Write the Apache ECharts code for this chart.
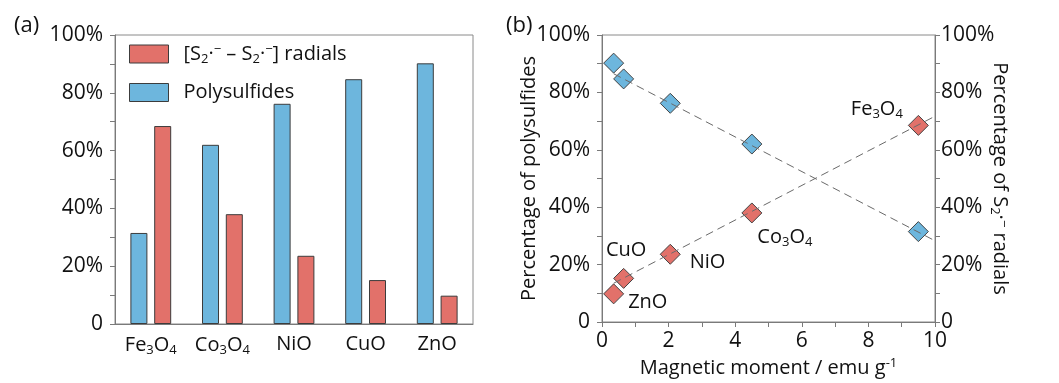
<!DOCTYPE html>
<html>
<head>
<meta charset="utf-8">
<script src="https://cdn.jsdelivr.net/npm/echarts@6/dist/echarts.min.js"></script>
<style>html,body{margin:0;padding:0;background:#fff}#c{width:1059px;height:383px}</style>
</head>
<body>
<div id="c"></div>
<script>
// ---- data ----
const categories = ['Fe3O4', 'Co3O4', 'NiO', 'CuO', 'ZnO'];
const polysulfides = [31.5, 62, 76.2, 84.7, 90.2];
const radicals = [68.5, 38, 23.6, 15.2, 9.8];
const magneticMoment = [9.5, 4.5, 2.05, 0.65, 0.35];
const fitX = [0.35, 10];
const fitPolysulfides = [86.5, 28.3];
const fitRadicals = [13.5, 71.7];
const yTicks = [0, 20, 40, 60, 80, 100];
const xTicks = [0, 2, 4, 6, 8, 10];

// ---- styles ----
const FONT = 'Open Sans';
const FS = 20;
const TFS = 21;
const BLUE = '#6db6dd', RED = '#e2716a', EDGE = '#3c3c3c', AXIS = '#7a7a7a';
const rich = {
  n: {fontFamily: FONT, fontSize: FS, color: '#111'},
  sub: {fontFamily: FONT, fontSize: 13, color: '#111', padding: [10, 0, 0, 0]},
  sup: {fontFamily: FONT, fontSize: 13, color: '#111', padding: [0, 0, 9, 0]}
};
const chem = s => s.replace(/(\d)/g, '{sub|$1}').replace(/^([^{]+)/, '{n|$1}').replace(/\}([A-Za-z]+)/g, '}{n|$1}');
const pct = v => v === 0 ? '0' : v + '%';
// label placement for red point annotations: [dx, dy, align]
const labelPlace = {
  'Fe3O4': [-15, -16, 'right'],
  'Co3O4': [6, 25, 'left'],
  'NiO': [20, 9, 'left'],
  'CuO': [3, -28, 'center'],
  'ZnO': [15, 9, 'left']
};

const yAxisBase = (gi, pos) => ({
  type: 'value', gridIndex: gi, position: pos, min: 0, max: 100, interval: 20,
  axisLine: {show: true, lineStyle: {color: AXIS, width: 1}},
  axisTick: {show: true, inside: false, length: 5, lineStyle: {color: AXIS}},
  minorTick: {show: true, splitNumber: 2, length: 5, lineStyle: {color: AXIS}},
  splitLine: {show: false},
  axisLabel: {formatter: pct, fontFamily: FONT, fontSize: TFS, color: '#111', margin: pos === 'right' ? 6 : 12}
});

const option = {
  animation: false,
  backgroundColor: '#fff',
  title: [
    {text: '(a)', left: 9, top: 10, textStyle: {fontFamily: FONT, fontSize: 22, fontWeight: 'normal', color: '#111'}},
    {text: '(b)', left: 501, top: 10, textStyle: {fontFamily: FONT, fontSize: 22, fontWeight: 'normal', color: '#111'}}
  ],
  grid: [
    {left: 115, top: 35, width: 358, height: 289, show: true, borderColor: '#8a8a8a', borderWidth: 1, backgroundColor: 'transparent'},
    {left: 602, top: 35, width: 333, height: 288, show: true, borderColor: '#8a8a8a', borderWidth: 1, backgroundColor: 'transparent'}
  ],
  legend: {
    left: 129, top: 43, padding: 0, orient: 'vertical', itemWidth: 39, itemHeight: 18, itemGap: 17,
    icon: 'rect',
    data: [
      {name: 'Radicals', itemStyle: {color: RED, borderColor: EDGE, borderWidth: 1}},
      {name: 'Polysulfides', itemStyle: {color: BLUE, borderColor: EDGE, borderWidth: 1}}
    ],
    formatter: n => n === 'Radicals'
      ? '{n|[S}{sub|2}{n|·}{sup|−}{n| – S}{sub|2}{n|·}{sup|−}{n|] radials}'
      : '{n|Polysulfides}',
    textStyle: {fontFamily: FONT, fontSize: FS, color: '#111', padding: [0, 0, 0, 10], rich: rich}
  },
  xAxis: [
    {
      type: 'category', gridIndex: 0, data: categories,
      axisLine: {show: true, lineStyle: {color: AXIS}},
      axisTick: {show: false},
      axisLabel: {formatter: chem, rich: rich, margin: 10, interval: 0}
    },
    {
      type: 'value', gridIndex: 1, min: 0, max: 10, interval: 2,
      axisLine: {show: true, lineStyle: {color: AXIS}},
      axisTick: {show: true, length: 5, lineStyle: {color: AXIS}},
      minorTick: {show: true, splitNumber: 2, length: 5, lineStyle: {color: AXIS}},
      splitLine: {show: false},
      axisLabel: {fontFamily: FONT, fontSize: TFS, color: '#111', margin: 9},
      name: '{n|Magnetic moment / emu g}{sup|-1}',
      nameLocation: 'middle', nameGap: 35, nameMoveOverlap: false,
      nameTextStyle: {rich: rich}
    }
  ],
  yAxis: [
    yAxisBase(0, 'left'),
    Object.assign(yAxisBase(1, 'left'), {
      name: 'Percentage of polysulfides', nameLocation: 'middle', nameGap: 63, nameMoveOverlap: false,
      nameTextStyle: {fontFamily: FONT, fontSize: FS, color: '#111'}
    }),
    Object.assign(yAxisBase(1, 'right'), {
      name: '{n|Percentage of S}{sub|2}{n|·}{sup|−}{n| radials}', nameLocation: 'middle', nameGap: 53, nameRotate: -90,
      nameMoveOverlap: false,
      nameTextStyle: {rich: rich}
    })
  ],
  series: [
    {
      name: 'Polysulfides', type: 'bar', xAxisIndex: 0, yAxisIndex: 0, data: polysulfides,
      barWidth: 17, barGap: '40%',
      itemStyle: {color: BLUE, borderColor: EDGE, borderWidth: 1}
    },
    {
      name: 'Radicals', type: 'bar', xAxisIndex: 0, yAxisIndex: 0, data: radicals,
      barWidth: 17, barGap: '40%',
      itemStyle: {color: RED, borderColor: EDGE, borderWidth: 1}
    },
    {
      name: 'polyPts', type: 'scatter', xAxisIndex: 1, yAxisIndex: 1,
      data: magneticMoment.map((m, i) => [m, polysulfides[i]]),
      symbol: 'diamond', symbolSize: 20,
      itemStyle: {color: BLUE, borderColor: '#444', borderWidth: 1, opacity: 1}
    },
    {
      name: 'radPts', type: 'scatter', xAxisIndex: 1, yAxisIndex: 2,
      data: magneticMoment.map((m, i) => {
        const p = labelPlace[categories[i]];
        return {
          value: [m, radicals[i]],
          label: {
            show: true, formatter: chem(categories[i]), rich: rich,
            position: [10 + p[0], 10 + p[1]], align: p[2], verticalAlign: 'middle'
          }
        };
      }),
      symbol: 'diamond', symbolSize: 20,
      itemStyle: {color: RED, borderColor: '#444', borderWidth: 1, opacity: 1}
    },
    {
      name: 'fitPoly', type: 'line', xAxisIndex: 1, yAxisIndex: 1, z: 5,
      data: fitX.map((x, i) => [x, fitPolysulfides[i]]), symbol: 'none',
      lineStyle: {color: '#6a6a6a', width: 1, type: [8, 5]}
    },
    {
      name: 'fitRad', type: 'line', xAxisIndex: 1, yAxisIndex: 2, z: 5,
      data: fitX.map((x, i) => [x, fitRadicals[i]]), symbol: 'none',
      lineStyle: {color: '#6a6a6a', width: 1, type: [8, 5]}
    }
  ]
};
const chart = echarts.init(document.getElementById('c'), null, {renderer: 'canvas'});
chart.setOption(option);
</script>
</body>
</html>
